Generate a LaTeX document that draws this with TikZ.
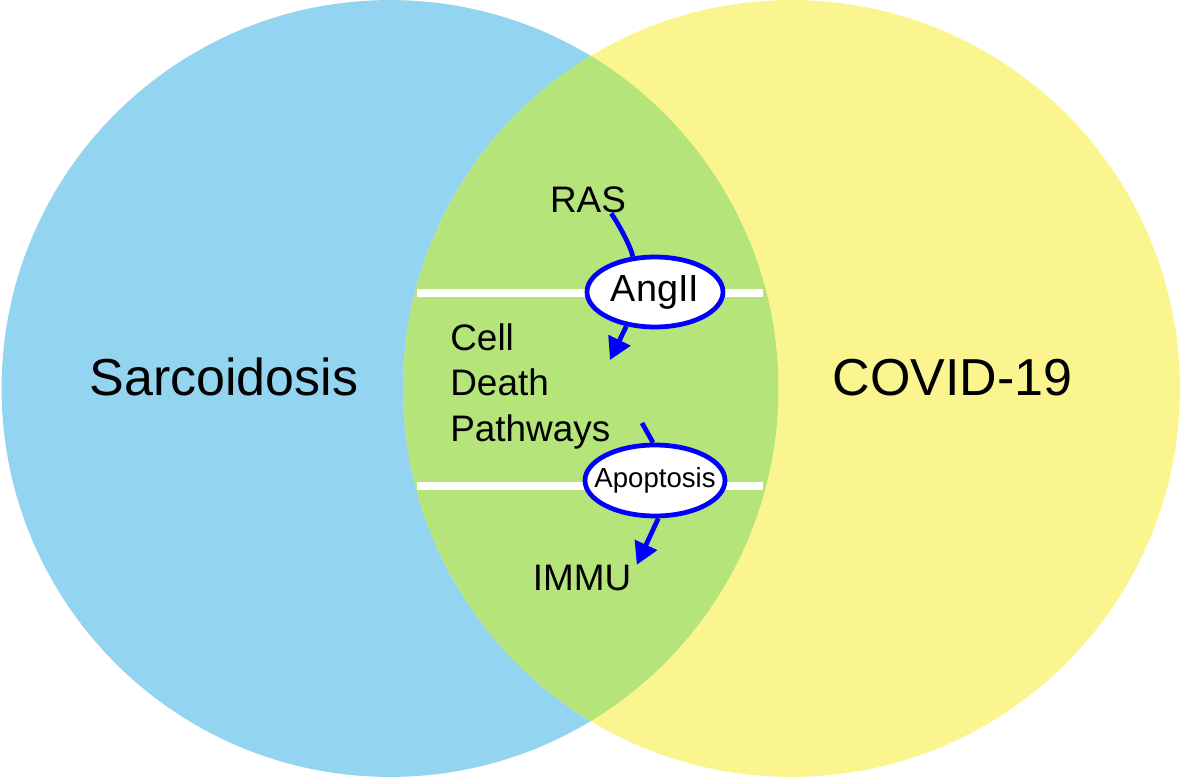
\documentclass[tikz,border=0pt]{standalone}
\usepackage{fontspec}
\setsansfont{Liberation Sans}
\usetikzlibrary{arrows.meta,positioning,shapes.geometric}
\definecolor{sarcblue}{HTML}{93D4F0}
\definecolor{covidyellow}{HTML}{FBF58F}
\definecolor{overlapgreen}{HTML}{B5E47B}
\definecolor{pathblue}{HTML}{0000FF}

\begin{document}
\begin{tikzpicture}[x=0.02cm, y=-0.02cm, font=\sffamily,
  term/.style={inner sep=0pt, font=\sffamily\fontsize{21pt}{25.9pt}\selectfont},
  setname/.style={inner sep=0pt, font=\sffamily\fontsize{29.6pt}{34pt}\selectfont},
  hub/.style={ellipse, draw=pathblue, line width=2.7pt, fill=white, inner sep=0pt,
    minimum width=2.72cm, minimum height=1.4cm},
  link/.style={draw=pathblue, line width=2.7pt},
  flow/.style={link, -{Triangle[length=12.5pt,width=13.5pt]}},
  divider/.style={white, line width=4pt}]
  \useasboundingbox (0,0) rectangle (1181,777);

  % the two sets and their overlap
  \fill[sarcblue] (390,388.5) circle[radius=7.77cm];
  \fill[covidyellow] (791.5,388.5) circle[radius=7.77cm];
  \begin{scope}
    \clip (390,388.5) circle[radius=7.77cm];
    \fill[overlapgreen] (791.5,388.5) circle[radius=7.77cm];
  \end{scope}

  \draw[divider] (417,293) -- (763,293);
  \draw[divider] (417,486) -- (763,486);

  \node[setname] (sarc) at (224,377) {Sarcoidosis};
  \node[setname] (covid) at (952.5,377.5) {COVID-19};

  \node[term] (ras) at (588,200) {RAS};
  \node[hub, font=\sffamily\fontsize{21.5pt}{25pt}\selectfont] (ang) at (655,292) {AngII};
  \node[term, align=left, anchor=west] (cdp) at (450,386) {Cell\\Death\\Pathways};
  \node[hub, inner xsep=-8pt, minimum width=2.8cm, minimum height=1.42cm,
    font=\sffamily\fontsize{15.7pt}{18pt}\selectfont] (apo) at (655,480.5) {Apoptosis};
  \node[term] (immu) at (582,578) {IMMU};

  % pathway
  \coordinate (celltip) at (610,360);
  \coordinate (pwend) at (642,423);
  \draw[link] (ras.-30) .. controls +(7,10) and +(-2,-10) .. (ang.122);
  \draw[flow] (ang.-130) -- (celltip);
  \draw[link] (pwend) -- (apo.93);
  \draw[flow] (apo.-85) -- ([xshift=3pt]immu.north east);
\end{tikzpicture}
\end{document}
